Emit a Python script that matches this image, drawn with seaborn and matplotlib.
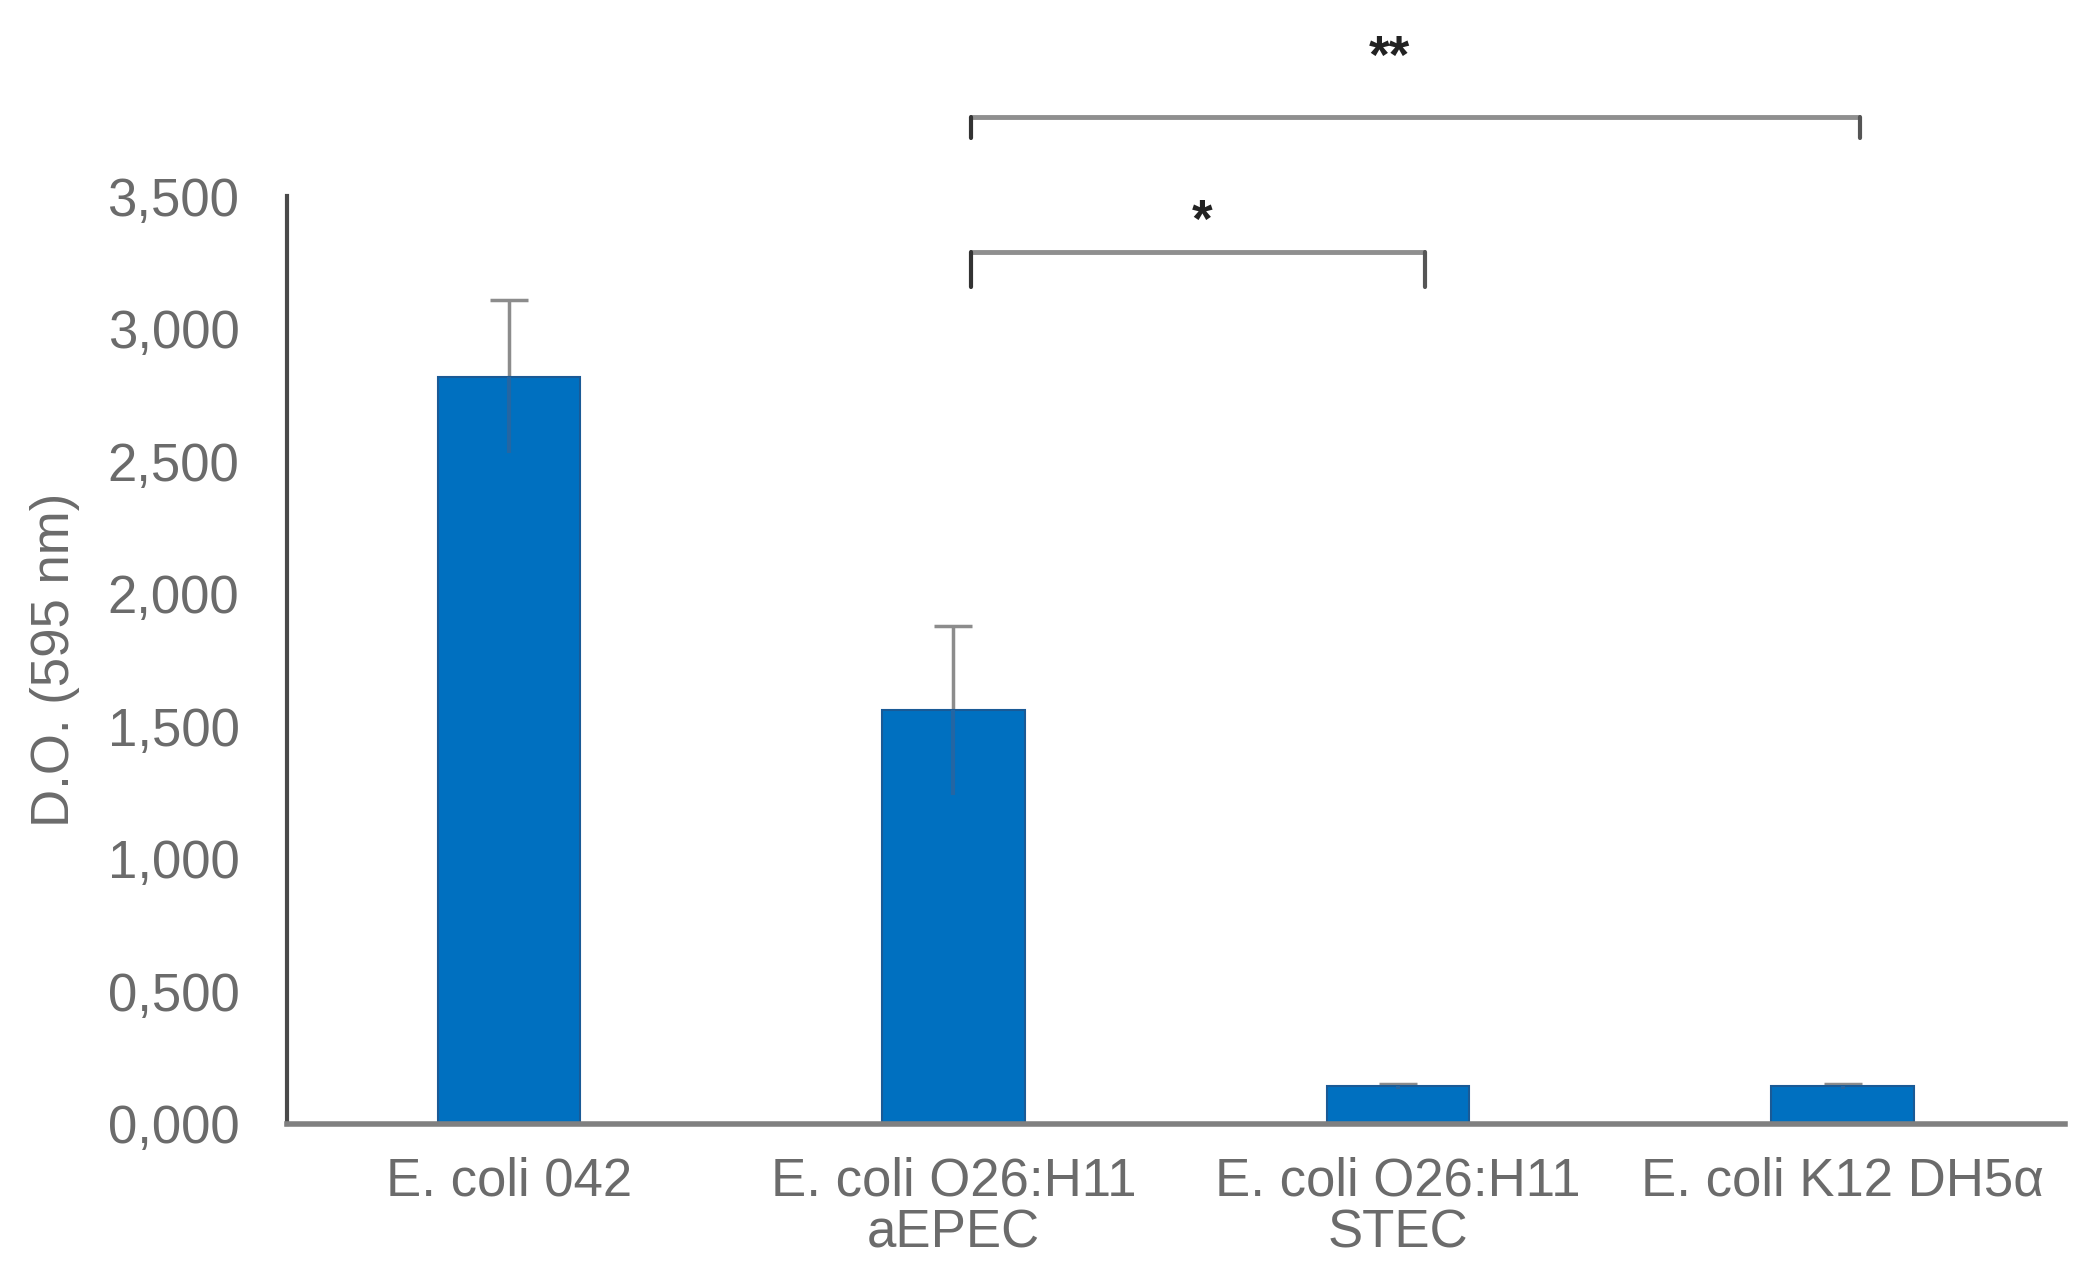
import matplotlib
matplotlib.use("Agg")
import matplotlib.pyplot as plt
import matplotlib.ticker as mticker
import seaborn as sns
import pandas as pd

categories = ["E. coli 042", "E. coli O26:H11\naEPEC", "E. coli O26:H11\nSTEC", "E. coli K12 DH5α"]
means = [2.82, 1.56, 0.14, 0.14]
errors = [0.29, 0.32, 0.01, 0.01]
y_ticks = [0.0, 0.5, 1.0, 1.5, 2.0, 2.5, 3.0, 3.5]
y_label = "D.O. (595 nm)"
brackets = [("*", 1.04, 2.06), ("**", 1.04, 3.04)]

sns.set_theme(style="white")
plt.rcParams["font.family"] = ["Liberation Sans", "DejaVu Sans"]

fig = plt.figure(figsize=(20.92, 12.84), dpi=100)
ax = fig.add_axes([0.137, 0.125, 0.850, 0.722])

df = pd.DataFrame({"cat": categories, "val": means})
sns.barplot(data=df, x="cat", y="val", color="#0070C0", saturation=1,
            width=0.32, errorbar=None, ax=ax, edgecolor="#1a5a96", linewidth=1.5,
            zorder=2)
xs = list(range(len(categories)))
zeros = [0] * len(errors)
# full error bars drawn behind the bars (upper half visible, grey, capped)
ax.errorbar(xs, means, yerr=errors, fmt="none",
            ecolor="#8c8c8c", elinewidth=2.5, capsize=14, capthick=2.5, zorder=1)
# lower part faintly seen through the bar
ax.errorbar(xs, means, yerr=[errors, zeros], fmt="none",
            ecolor="#2466a3", elinewidth=3, capsize=0, zorder=3)

ax.set_xlim(-0.5, 3.5)
ax.set_ylim(0, 3.5)
ax.set_yticks(y_ticks)
ax.yaxis.set_major_formatter(mticker.FuncFormatter(lambda v, p: f"{v:.3f}".replace(".", ",")))
ax.tick_params(axis="y", length=0, pad=34, labelsize=38, labelcolor="#6b6b6b")
ax.tick_params(axis="x", length=0, pad=24, labelsize=38, labelcolor="#6b6b6b")
for lbl in ax.get_xticklabels():
    lbl.set_linespacing(1.05)
ax.set_xlabel("")
ax.set_ylabel(y_label, fontsize=38, color="#6b6b6b", labelpad=20)

for s in ["top", "right"]:
    ax.spines[s].set_visible(False)
ax.spines["left"].set_color("#4a4a4a")
ax.spines["left"].set_linewidth(3)
ax.spines["bottom"].set_color("#808080")
ax.spines["bottom"].set_linewidth(4)
ax.spines["bottom"].set_zorder(4)

# significance brackets
levels = {"*": (3.29, 3.16, 3.40, 0.01), "**": (3.80, 3.72, 4.02, -0.06)}
for lab, x0, x1 in brackets:
    yh, yl, yt, dx = levels[lab]
    ax.plot([x0, x1], [yh, yh], color="#8f8f8f", lw=3.5, clip_on=False, solid_capstyle="butt")
    ax.plot([x0, x0], [yh, yl], color="#333333", lw=3, clip_on=False)
    ax.plot([x1, x1], [yh, yl], color="#555555", lw=3, clip_on=False)
    ax.text((x0 + x1) / 2 + dx, yt, lab, ha="center", va="center", fontsize=38,
            color="#222222", fontweight="bold", clip_on=False)

fig.savefig("out.png", dpi=100, facecolor="white")
